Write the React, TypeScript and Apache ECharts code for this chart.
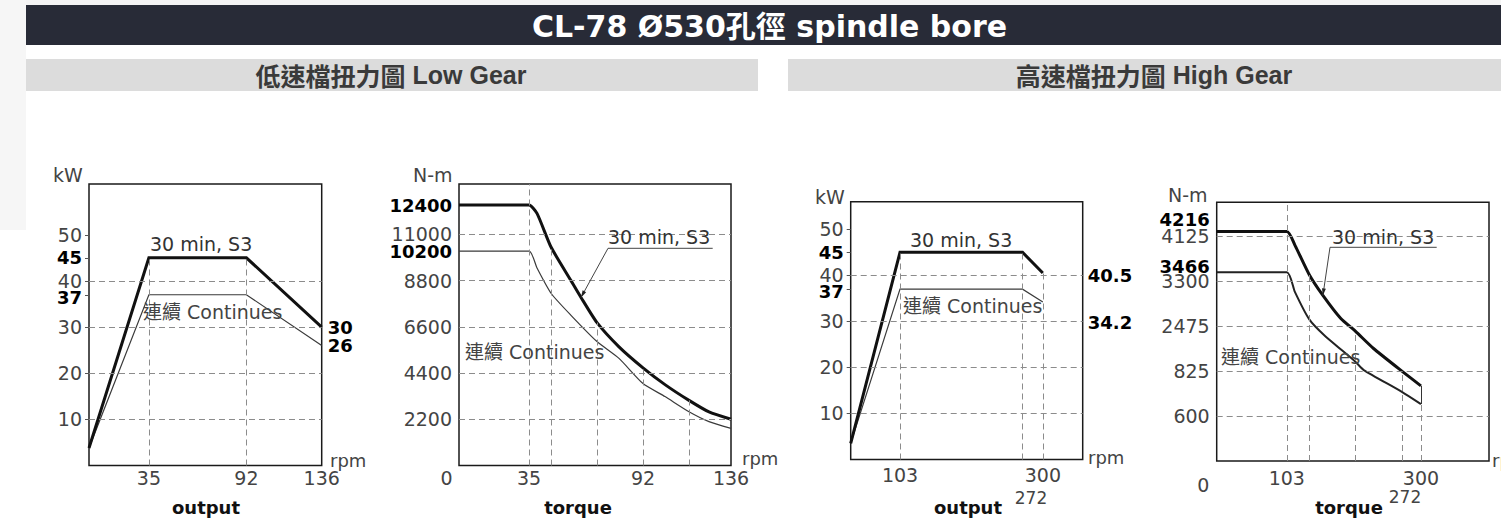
import React, { useEffect, useRef } from "react";
import * as echarts from "echarts";

const LABEL_FONT = "'DejaVu Sans', 'Noto Sans CJK TC', sans-serif";
const BAR_FONT = "'Liberation Sans', 'Noto Sans CJK TC', sans-serif";
const CJK_FONT = "'Noto Sans CJK TC', sans-serif";

// ---------- texts ----------
const mainTitle = "CL-78 Ø530孔徑 spindle bore";
const lowGearTitle = ["低速檔扭力圖", "Low Gear"];
const highGearTitle = ["高速檔扭力圖", "High Gear"];
const s3Label = "30 min, S3";
const contLabel = "連續 Continues";

// ---------- Low gear : output (kW vs rpm) ----------
const lowOutRpmTicks = [35, 92, 136];
const lowOutKwTicks = [10, 20, 30, 40, 50];
const lowOutKwMarked = [45, 37];
const lowOutGridValues = [10, 20, 30, 40];
const lowOutS3 = [[0, 3.8], [35, 45], [92, 45], [136, 30]];
const lowOutCont = [[0, 3.8], [35, 37], [92, 37], [136, 26]];
const lowOutGuides = [35, 92];

// ---------- Low gear : torque (N-m vs rpm) ----------
const lowTqRpmTicks = [0, 35, 92, 136];
const lowTqTicks = [2200, 4400, 6600, 8800, 11000];
const lowTqMarked = [12400, 10200];
const lowTqS3 = [
  [0, 12400], [35, 12400], [39, 12000], [46, 10400], [56, 8800], [61, 8000],
  [69, 6800], [80, 5650], [92, 4650], [103, 3850], [115, 3100], [125, 2550], [136, 2200],
];
const lowTqCont = [
  [0, 10200], [35, 10200], [39, 9400], [46, 8200], [56, 7150], [69, 5900],
  [80, 5100], [92, 3900], [103, 3280], [115, 2560], [125, 2090], [136, 1770],
];
const lowTqFullGuides = [35];
const lowTqGuides = [46, 69, 92, 115];
const lowTqLeaderRpm = 61;

// ---------- High gear : output (kW vs rpm) ----------
const highOutRpmTicks = [103, 300];
const highOutKwTicks = [10, 20, 30, 40, 50];
const highOutKwMarked = [45, 37];
const highOutGridValues = [10, 20, 30, 40];
const highOutS3 = [[35, 3.5], [103, 45], [272, 45], [300, 40.5]];
const highOutCont = [[35, 3.5], [103, 37], [272, 37], [300, 34.2]];
const highOutGuides = [103, 272, 300];

// ---------- High gear : torque (N-m vs rpm) ----------
const highTqRpmTicks = [0, 103, 300];
const highTqTicks = [825, 1650, 2475, 3300, 4125];
const highTqTickLabels = ["600", "825", "2475", "3300", "4125"];
const highTqMarked = [4216, 3466];
const highTqS3 = [
  [0, 4216], [103, 4216], [115, 3960], [136, 3420], [156, 3040], [182, 2620],
  [204, 2380], [230, 2070], [272, 1650], [300, 1380],
];
const highTqCont = [
  [0, 3466], [103, 3466], [115, 3100], [136, 2600], [158, 2310], [204, 1820],
  [216, 1670], [272, 1270], [300, 1045],
];
const highTqFullGuides = [103];
const highTqGuides = [136, 204, 272, 300];
const highTqLeaderRpm = 156;

// ---------- layout ----------
const grids = [
  { left: 89, top: 184, width: 232.7, height: 281.5 },
  { left: 459, top: 184, width: 272, height: 281.5 },
  { left: 850.7, top: 201.7, width: 232, height: 257.8 },
  { left: 1216.7, top: 202.3, width: 272.3, height: 258.7 },
];
const xRanges = [[0, 136], [0, 136], [35, 355], [0, 400]];
const yRanges = [[0, 61], [0, 13400], [0, 56], [0, 4750]];

const valueAt = (data: number[][], x: number) => {
  const p = data.find((d) => d[0] === x);
  return p ? p[1] : 0;
};

const boldRich = (pad: number[]) => ({
  color: "#000",
  fontSize: 18,
  fontWeight: "bold",
  fontFamily: LABEL_FONT,
  padding: pad,
});

function makeXAxis(i: number, ticks: number[], margin: number, zeroPad: number[]) {
  return {
    type: "value",
    gridIndex: i,
    min: xRanges[i][0],
    max: xRanges[i][1],
    axisLine: { show: false },
    axisTick: { show: false },
    splitLine: { show: false },
    axisLabel: {
      customValues: ticks,
      margin,
      showMinLabel: true,
      showMaxLabel: true,
      color: "#444",
      fontSize: 19,
      fontFamily: LABEL_FONT,
      formatter: (v: number) => (v === 0 ? "{z|0}" : String(v)),
      rich: {
        z: { padding: zeroPad, color: "#444", fontSize: 19, fontFamily: LABEL_FONT },
      },
    },
  };
}

function makeYAxis(
  i: number,
  ticks: number[],
  tickLabels: string[] | null,
  marked: number[],
  showTicks: boolean,
  markedPads: number[][]
) {
  const values = [...ticks, ...marked];
  return {
    type: "value",
    gridIndex: i,
    min: yRanges[i][0],
    max: yRanges[i][1],
    axisLine: { show: false },
    splitLine: { show: false },
    axisTick: {
      show: showTicks,
      customValues: values,
      length: 4,
      lineStyle: { color: "#555", width: 1 },
    },
    axisLabel: {
      customValues: values,
      margin: 7,
      showMinLabel: true,
      showMaxLabel: true,
      color: "#444",
      fontSize: 19,
      fontFamily: LABEL_FONT,
      formatter: (v: number) => {
        const mi = marked.indexOf(v);
        if (mi >= 0) return `{m${mi}|${v}}`;
        const ti = ticks.indexOf(v);
        return tickLabels ? tickLabels[ti] : String(v);
      },
      rich: { m0: boldRich(markedPads[0]), m1: boldRich(markedPads[1]) },
    },
  };
}

const dashStyle = { type: [6, 4], color: "#8c8c8c", width: 1 };

function guideSeries(
  i: number,
  gridValues: number[],
  fullGuides: number[],
  drops: number[],
  s3: number[][],
  extra: any[] = []
) {
  return {
    type: "line",
    xAxisIndex: i,
    yAxisIndex: i,
    data: [],
    silent: true,
    z: 1,
    symbol: "none",
    markLine: {
      silent: true,
      symbol: ["none", "none"],
      label: { show: false },
      lineStyle: dashStyle,
      emphasis: { disabled: true },
      data: [
        ...gridValues.map((v) => ({ yAxis: v })),
        ...fullGuides.map((v) => ({ xAxis: v })),
        ...drops.map((r) => [{ coord: [r, 0] }, { coord: [r, valueAt(s3, r)] }]),
        ...extra,
      ],
    },
  };
}

function curveSeries(
  i: number,
  data: number[][],
  width: number,
  color: string,
  z: number,
  smooth: number | boolean,
  endLabel?: any
) {
  return {
    type: "line",
    xAxisIndex: i,
    yAxisIndex: i,
    data,
    symbol: "none",
    smooth,
    z,
    silent: true,
    emphasis: { disabled: true },
    lineStyle: { width, color, cap: "butt", join: "miter" },
    endLabel,
  };
}

const endLabel = (distance: number, offset: number[]) => ({
  show: true,
  formatter: (p: any) => String(p.value[1]),
  distance,
  offset,
  color: "#000",
  fontSize: 18,
  fontWeight: "bold",
  fontFamily: LABEL_FONT,
});

function txt(text: string, x: number, y: number, o: any = {}) {
  const align = o.align || "left";
  return {
    type: "text",
    x,
    y,
    silent: true,
    z: 50,
    style: {
      text,
      fill: o.fill || "#444",
      fontSize: o.size || 19,
      fontFamily: o.font || LABEL_FONT,
      fontWeight: o.weight || "normal",
      align,
      textAlign: align,
      verticalAlign: "middle",
      textVerticalAlign: "middle",
      rich: o.rich,
    },
  };
}

function leader(points: number[][], tip: number[]) {
  const from = points[points.length - 1];
  const dx = tip[0] - from[0];
  const dy = tip[1] - from[1];
  const len = Math.sqrt(dx * dx + dy * dy) || 1;
  const ux = dx / len;
  const uy = dy / len;
  const bx = tip[0] - ux * 7;
  const by = tip[1] - uy * 7;
  return [
    {
      type: "polyline",
      silent: true,
      z: 40,
      shape: { points: [...points, tip] },
      style: { stroke: "#444", lineWidth: 1, fill: null },
    },
    {
      type: "polygon",
      silent: true,
      z: 41,
      shape: {
        points: [
          [tip[0], tip[1]],
          [bx - uy * 2, by + ux * 2],
          [bx + uy * 2, by - ux * 2],
        ],
      },
      style: { fill: "#222" },
    },
  ];
}

export default function App() {
  const ref = useRef<HTMLDivElement>(null);

  useEffect(() => {
    if (!ref.current) return;
    const chart = echarts.init(ref.current, undefined, { renderer: "svg" });

    const option: any = {
      animation: false,
      backgroundColor: "#ffffff",
      grid: grids.map((g) => ({
        ...g,
        show: true,
        borderColor: "#1a1a1a",
        borderWidth: 1.5,
        backgroundColor: "transparent",
        containLabel: false,
        outerBoundsMode: "none",
      })),
      xAxis: [
        makeXAxis(0, lowOutRpmTicks, 3, [0, 0, 0, 0]),
        makeXAxis(1, lowTqRpmTicks, 3, [0, 25, 0, 0]),
        makeXAxis(2, highOutRpmTicks, 6, [0, 0, 0, 0]),
        makeXAxis(3, highTqRpmTicks, 7, [7, 27, 0, 0]),
      ],
      yAxis: [
        makeYAxis(0, lowOutKwTicks, null, lowOutKwMarked, true, [[0, 0, 0, 0], [5, 0, 0, 0]]),
        makeYAxis(1, lowTqTicks, null, lowTqMarked, false, [[0, 0, 0, 0], [0, 0, 0, 0]]),
        makeYAxis(2, highOutKwTicks, null, highOutKwMarked, true, [[0, 0, 0, 0], [5, 0, 0, 0]]),
        makeYAxis(3, highTqTicks, highTqTickLabels, highTqMarked, false, [[0, 0, 24, 0], [0, 0, 11, 0]]),
      ],
      series: [
        guideSeries(0, lowOutGridValues, [], lowOutGuides, lowOutS3),
        curveSeries(0, lowOutCont, 1.2, "#3a3a3a", 2, false, endLabel(6, [0, 0])),
        curveSeries(0, lowOutS3, 3, "#111", 3, false, endLabel(6, [0, 0])),

        guideSeries(1, lowTqTicks, lowTqFullGuides, lowTqGuides, lowTqS3),
        curveSeries(1, lowTqCont, 1.2, "#3a3a3a", 2, 0.2),
        curveSeries(1, lowTqS3, 3, "#111", 3, 0.2),

        guideSeries(2, highOutGridValues, [], highOutGuides, highOutS3),
        curveSeries(2, highOutCont, 1.2, "#3a3a3a", 2, false, endLabel(45, [0, 20])),
        curveSeries(2, highOutS3, 3, "#111", 3, false, endLabel(45, [0, 2])),

        guideSeries(3, highTqTicks, highTqFullGuides, highTqGuides, highTqS3, [
          [
            { coord: [300, valueAt(highTqCont, 300)], lineStyle: { type: "solid", color: "#333", width: 1 } },
            { coord: [300, valueAt(highTqS3, 300)] },
          ],
        ]),
        curveSeries(3, highTqCont, 2, "#222", 2, 0.2),
        curveSeries(3, highTqS3, 3, "#111", 3, 0.2),
      ],
    };
    chart.setOption(option);

    const p2 = chart.convertToPixel({ xAxisIndex: 1, yAxisIndex: 1 } as any, [
      lowTqLeaderRpm,
      valueAt(lowTqS3, lowTqLeaderRpm),
    ]) as number[];
    const p4 = chart.convertToPixel({ xAxisIndex: 3, yAxisIndex: 3 } as any, [
      highTqLeaderRpm,
      valueAt(highTqS3, highTqLeaderRpm),
    ]) as number[];

    const barRich = {
      c: { fontSize: 25, fontWeight: "bold", fontFamily: CJK_FONT, fill: "#3a3a3a", color: "#3a3a3a" },
      e: { fontSize: 25, fontWeight: "bold", fontFamily: BAR_FONT, fill: "#3a3a3a", color: "#3a3a3a" },
    };

    const elements: any[] = [
      { type: "rect", silent: true, z: 0, shape: { x: 0, y: 0, width: 1501, height: 5 }, style: { fill: "#f4f4f4" } },
      { type: "rect", silent: true, z: 0, shape: { x: 0, y: 0, width: 26, height: 230 }, style: { fill: "#f6f6f6" } },
      { type: "rect", silent: true, z: 1, shape: { x: 26, y: 5, width: 1475, height: 40 }, style: { fill: "#282b37" } },
      { type: "rect", silent: true, z: 1, shape: { x: 26, y: 59, width: 732, height: 32 }, style: { fill: "#dcdcdc" } },
      { type: "rect", silent: true, z: 1, shape: { x: 788, y: 59, width: 713, height: 32 }, style: { fill: "#dcdcdc" } },
      txt(mainTitle, 769.5, 26, { align: "center", fill: "#ffffff", size: 30, weight: "bold" }),
      txt(`{c|${lowGearTitle[0]}} {e|${lowGearTitle[1]}}`, 391, 75, { align: "center", fill: "#3a3a3a", size: 25, weight: "bold", font: BAR_FONT, rich: barRich }),
      txt(`{c|${highGearTitle[0]}} {e|${highGearTitle[1]}}`, 1154, 75, { align: "center", fill: "#3a3a3a", size: 25, weight: "bold", font: BAR_FONT, rich: barRich }),

      // chart 1
      txt("kW", 53, 175),
      txt("rpm", 330, 460, { size: 18 }),
      txt("output", 206, 507, { align: "center", fill: "#111", size: 18, weight: "bold" }),
      txt(s3Label, 150, 244, { fill: "#333" }),
      txt(contLabel, 143, 312, { fill: "#444" }),

      // chart 2
      txt("N-m", 413, 175),
      txt("rpm", 742, 458, { size: 18 }),
      txt("torque", 578, 507, { align: "center", fill: "#111", size: 18, weight: "bold" }),
      txt(s3Label, 608, 237, { fill: "#333" }),
      txt(contLabel, 465, 352, { fill: "#444" }),
      ...leader([[712.7, 248.3], [608, 248.3]], p2),

      // chart 3
      txt("kW", 815, 197),
      txt("rpm", 1088, 457, { size: 18 }),
      txt("output", 968, 507, { align: "center", fill: "#111", size: 18, weight: "bold" }),
      txt("272", 1031, 498, { align: "center", size: 17 }),
      txt(s3Label, 910, 240, { fill: "#333" }),
      txt(contLabel, 903, 306, { fill: "#444" }),

      // chart 4
      txt("N-m", 1168, 195),
      txt("rpm", 1492, 460, { size: 18 }),
      txt("torque", 1349, 507, { align: "center", fill: "#111", size: 18, weight: "bold" }),
      txt("272", 1405, 497, { align: "center", size: 17 }),
      txt(s3Label, 1332, 237, { fill: "#333" }),
      txt(contLabel, 1221, 357, { fill: "#444" }),
      ...leader([[1436.7, 247.3], [1330, 247.3]], p4),
    ];

    chart.setOption({ graphic: { elements } });

    return () => chart.dispose();
  }, []);

  return (
    <div
      ref={ref}
      style={{ position: "fixed", left: 0, top: 0, width: 1501, height: 525, background: "#fff" }}
    />
  );
}
